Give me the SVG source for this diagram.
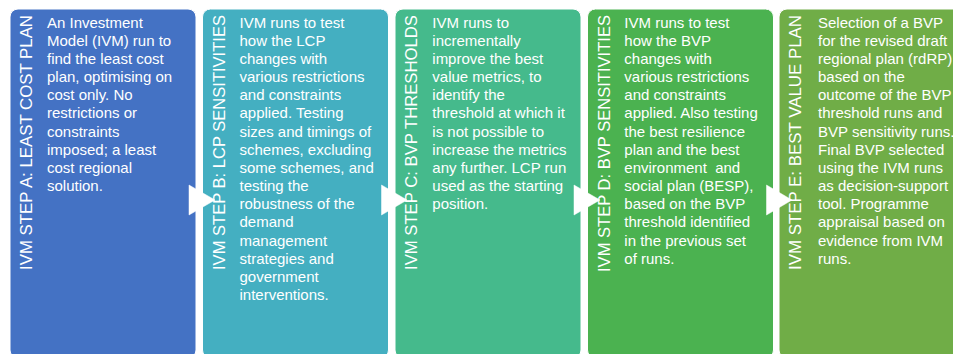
<svg xmlns="http://www.w3.org/2000/svg" width="953" height="354" viewBox="0 0 953 354">
<style>
.panel{stroke:#ffffff;stroke-width:1}
.title{font-family:"Liberation Sans",Arial,sans-serif;font-size:17px;fill:#ffffff}
.body{font-family:"Liberation Sans",Arial,sans-serif;font-size:15px;fill:#ffffff}
.arrow{fill:#ffffff;stroke:#ffffff;stroke-width:0.5;stroke-linejoin:miter}
.pre{white-space:pre}
</style>
<rect width="953" height="354" fill="#ffffff"/>
<g id="stepA">
<rect class="panel" x="10" y="9" width="186" height="349" rx="8" fill="#4472C4"/>
<text class="title" transform="translate(32,270) rotate(-90)" textLength="255" lengthAdjust="spacingAndGlyphs">IVM STEP A: LEAST COST PLAN</text>
<text class="body" y="27.5"><tspan x="47">An Investment</tspan><tspan x="47" dy="18.17">Model (IVM) run to</tspan><tspan x="47" dy="18.17">find the least cost</tspan><tspan x="47" dy="18.17">plan, optimising on</tspan><tspan x="47" dy="18.17">cost only. No</tspan><tspan x="47" dy="18.17">restrictions or</tspan><tspan x="47" dy="18.17">constraints</tspan><tspan x="47" dy="18.17">imposed; a least</tspan><tspan x="47" dy="18.17">cost regional</tspan><tspan x="47" dy="18.17">solution.</tspan></text>
</g>
<g id="stepB">
<rect class="panel" x="202.5" y="9" width="186" height="349" rx="8" fill="#44AFC1"/>
<text class="title" transform="translate(224.5,270) rotate(-90)" textLength="255" lengthAdjust="spacingAndGlyphs">IVM STEP B: LCP SENSITIVITIES</text>
<text class="body" y="27.5"><tspan x="239.5">IVM runs to test</tspan><tspan x="239.5" dy="18.17">how the LCP</tspan><tspan x="239.5" dy="18.17">changes with</tspan><tspan x="239.5" dy="18.17">various restrictions</tspan><tspan x="239.5" dy="18.17">and constraints</tspan><tspan x="239.5" dy="18.17">applied. Testing</tspan><tspan x="239.5" dy="18.17">sizes and timings of</tspan><tspan x="239.5" dy="18.17">schemes, excluding</tspan><tspan x="239.5" dy="18.17">some schemes, and</tspan><tspan x="239.5" dy="18.17">testing the</tspan><tspan x="239.5" dy="18.17">robustness of the</tspan><tspan x="239.5" dy="18.17">demand</tspan><tspan x="239.5" dy="18.17">management</tspan><tspan x="239.5" dy="18.17">strategies and</tspan><tspan x="239.5" dy="18.17">government</tspan><tspan x="239.5" dy="18.17">interventions.</tspan></text>
</g>
<g id="stepC">
<rect class="panel" x="395" y="9" width="186" height="349" rx="8" fill="#45BA8C"/>
<text class="title" transform="translate(417,270) rotate(-90)" textLength="255" lengthAdjust="spacingAndGlyphs">IVM STEP C: BVP THRESHOLDS</text>
<text class="body" y="27.5"><tspan x="432.3">IVM runs to</tspan><tspan x="432.3" dy="18.17">incrementally</tspan><tspan x="432.3" dy="18.17">improve the best</tspan><tspan x="432.3" dy="18.17">value metrics, to</tspan><tspan x="432.3" dy="18.17">identify the</tspan><tspan x="432.3" dy="18.17">threshold at which it</tspan><tspan x="432.3" dy="18.17">is not possible to</tspan><tspan x="432.3" dy="18.17">increase the metrics</tspan><tspan x="432.3" dy="18.17">any further. LCP run</tspan><tspan x="432.3" dy="18.17">used as the starting</tspan><tspan x="432.3" dy="18.17">position.</tspan></text>
</g>
<g id="stepD">
<rect class="panel" x="587.5" y="9" width="186" height="349" rx="8" fill="#4BB250"/>
<text class="title" transform="translate(609.5,272) rotate(-90)" textLength="257" lengthAdjust="spacingAndGlyphs">IVM STEP D: BVP SENSITIVITIES</text>
<text class="body" y="27.5"><tspan x="624.3">IVM runs to test</tspan><tspan x="624.3" dy="18.17">how the BVP</tspan><tspan x="624.3" dy="18.17">changes with</tspan><tspan x="624.3" dy="18.17">various restrictions</tspan><tspan x="624.3" dy="18.17">and constraints</tspan><tspan x="624.3" dy="18.17">applied. Also testing</tspan><tspan x="624.3" dy="18.17">the best resilience</tspan><tspan x="624.3" dy="18.17">plan and the best</tspan><tspan class="pre" x="624.3" dy="18.17">environment  and</tspan><tspan x="624.3" dy="18.17">social plan (BESP),</tspan><tspan x="624.3" dy="18.17">based on the BVP</tspan><tspan x="624.3" dy="18.17">threshold identified</tspan><tspan x="624.3" dy="18.17">in the previous set</tspan><tspan x="624.3" dy="18.17">of runs.</tspan></text>
</g>
<g id="stepE">
<rect class="panel" x="779" y="9" width="190" height="349" rx="8" fill="#70AD47"/>
<text class="title" transform="translate(801,270) rotate(-90)" textLength="255" lengthAdjust="spacingAndGlyphs">IVM STEP E: BEST VALUE PLAN</text>
<text class="body" y="27.5"><tspan x="818">Selection of a BVP</tspan><tspan x="818" dy="18.17">for the revised draft</tspan><tspan x="818" dy="18.17">regional plan (rdRP)</tspan><tspan x="818" dy="18.17">based on the</tspan><tspan x="818" dy="18.17">outcome of the BVP</tspan><tspan x="818" dy="18.17">threshold runs and</tspan><tspan x="818" dy="18.17">BVP sensitivity runs.</tspan><tspan x="818" dy="18.17">Final BVP selected</tspan><tspan x="818" dy="18.17">using the IVM runs</tspan><tspan x="818" dy="18.17">as decision-support</tspan><tspan x="818" dy="18.17">tool. Programme</tspan><tspan x="818" dy="18.17">appraisal based on</tspan><tspan x="818" dy="18.17">evidence from IVM</tspan><tspan x="818" dy="18.17">runs.</tspan></text>
</g>
<g id="connectors">
<polygon class="arrow" points="189,185 215,200 189,215"/>
<polygon class="arrow" points="381.5,185 407,200 381.5,215"/>
<polygon class="arrow" points="574,185 600,200 574,215"/>
<polygon class="arrow" points="766.5,185 792,200 766.5,215"/>
</g>
</svg>
